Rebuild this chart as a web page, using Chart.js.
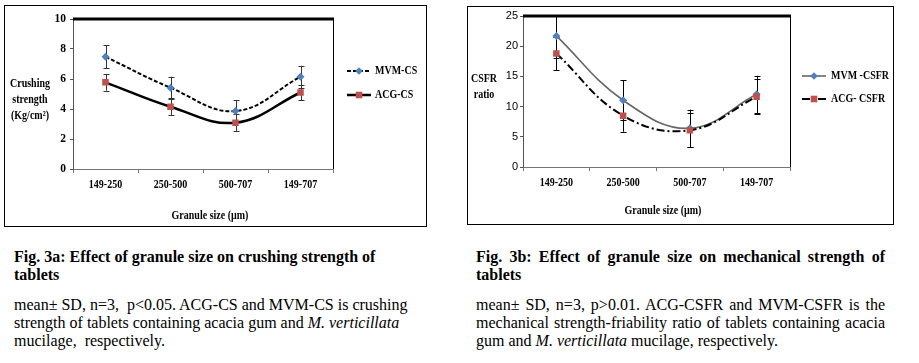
<!DOCTYPE html>
<html><head><meta charset="utf-8">
<script src="https://cdn.jsdelivr.net/npm/chart.js@4.4.1/dist/chart.umd.min.js"></script>
<style>
body{margin:0;background:#fff;width:919px;height:363px;overflow:hidden;position:relative;font-family:"Liberation Serif","Times New Roman",serif;color:#000}
.box{position:absolute;border:1px solid #000;box-sizing:border-box}
.cv{position:absolute;top:0}
.cap{position:absolute;font-size:16px;line-height:18px}
.j{text-align:justify;text-align-last:justify}
</style></head><body>
<div class="box" style="left:4px;top:5px;width:423px;height:222px"></div>
<div class="box" style="left:467px;top:6px;width:427px;height:219px"></div>
<div class="cv" style="left:0;"><canvas id="c1" width="460" height="232"></canvas></div>
<div class="cv" style="left:460px;"><canvas id="c2" width="459" height="232"></canvas></div>

<div class="cap" style="left:14px;top:248px;font-weight:bold;white-space:pre">Fig. 3a: Effect of granule size on crushing strength of
tablets</div>
<div class="cap" style="left:14px;top:296px;white-space:pre">mean± SD, n=3,  p&lt;0.05. ACG-CS and MVM-CS is crushing
strength of tablets containing acacia gum and <i>M. verticillata</i>
mucilage,  respectively.</div>

<div class="cap" style="left:476px;top:248px;width:409px;font-weight:bold"><div class="j">Fig. 3b: Effect of granule size on mechanical strength of</div><div>tablets</div></div>
<div class="cap" style="left:476px;top:296px;width:409px"><div class="j">mean± SD, n=3, p&gt;0.01. ACG-CSFR and MVM-CSFR is the</div><div class="j">mechanical strength-friability ratio of tablets containing acacia</div><div>gum and <i>M. verticillata</i> mucilage, respectively.</div></div>

<script>
// ---- data ----
const categories = ['149-250', '250-500', '500-707', '149-707'];
const mvmCS      = [7.48, 5.42, 3.86, 6.15];
const mvmCSErr   = [0.76, 0.73, 0.72, 0.73];
const acgCS      = [5.78, 4.15, 3.09, 5.10];
const acgCSErr   = [0.56, 0.56, 0.57, 0.50];
const mvmCSFR    = [21.7, 11.05, 6.4, 12.05];
const mvmCSFRErr = [3.6, 3.3, 3.1, 3.05];
const acgCSFR    = [18.8, 8.5, 6.1, 11.65];
const acgCSFRErr = [2.8, 2.65, 2.8, 2.85];
const csTicks    = {min: 0, max: 10, step: 2};
const csfrTicks  = {min: 0, max: 25, step: 5};

function sText(ctx, txt, x, y, font, align, sx) {
  ctx.save();
  ctx.font = font;
  ctx.textBaseline = 'middle';
  ctx.textAlign = align;
  ctx.fillStyle = '#000';
  ctx.translate(x, y);
  ctx.scale(sx, 1);
  ctx.fillText(txt, 0, 0);
  ctx.restore();
}

function marker(ctx, style, x, y, color) {
  ctx.save();
  ctx.fillStyle = color;
  ctx.beginPath();
  if (style === 'rectRot') {
    const r = 3.8;
    ctx.moveTo(x, y - r); ctx.lineTo(x + r, y); ctx.lineTo(x, y + r); ctx.lineTo(x - r, y);
  } else {
    const s = 3.3;
    ctx.rect(x - s, y - s, 2 * s, 2 * s);
  }
  ctx.closePath();
  ctx.fill();
  ctx.restore();
}

const decor = {
  id: 'decor',
  beforeDatasetsDraw(chart, args, o) {
    const ctx = chart.ctx, a = chart.chartArea;
    const xs = chart.scales.x, ys = chart.scales.y;
    ctx.save();
    ctx.beginPath();
    ctx.rect(a.left, a.top, a.right - a.left, a.bottom - a.top);
    ctx.clip();
    ctx.strokeStyle = o.errColor;
    ctx.lineWidth = 1;
    chart.data.datasets.forEach(ds => {
      ds.data.forEach((v, i) => {
        const e = ds.errors[i];
        const x = Math.round(xs.getPixelForValue(i)) + 0.5;
        const yt = ys.getPixelForValue(v + e), yb = ys.getPixelForValue(v - e);
        ctx.beginPath();
        ctx.moveTo(x, yt); ctx.lineTo(x, yb);
        ctx.moveTo(x - 3, Math.round(yt) + 0.5); ctx.lineTo(x + 3, Math.round(yt) + 0.5);
        ctx.moveTo(x - 3, Math.round(yb) + 0.5); ctx.lineTo(x + 3, Math.round(yb) + 0.5);
        ctx.stroke();
      });
    });
    ctx.restore();
  },
  afterDraw(chart, args, o) {
    const ctx = chart.ctx, a = chart.chartArea;
    const xs = chart.scales.x, ys = chart.scales.y;
    // plot border (thick top, thin right)
    ctx.save();
    ctx.fillStyle = '#000';
    ctx.fillRect(a.left, a.top - 1.5, a.right - a.left + 1, 3);
    ctx.fillRect(a.right, a.top, 1, a.bottom - a.top);
    ctx.restore();
    // x tick labels
    chart.data.labels.forEach((lab, i) => {
      sText(ctx, lab, xs.getPixelForValue(i), o.xLabelY, 'bold 12.5px "Liberation Serif"', 'center', 0.8);
    });
    // y tick labels
    ys.ticks.forEach(t => {
      sText(ctx, String(t.value), o.yLabelX, ys.getPixelForValue(t.value), o.yFont, 'right', 1);
    });
    // axis titles
    o.yTitle.forEach((line, i) => {
      sText(ctx, line, o.yTitleX, o.yTitleY[i], 'bold 12.5px "Liberation Serif"', 'center', 0.8);
    });
    sText(ctx, o.xTitle, o.xTitleX, o.xTitleY, 'bold 12.5px "Liberation Serif"', 'center', 0.8);
    // legend
    o.legendOrder.forEach((di, k) => {
      const ds = chart.data.datasets[di];
      const y = o.legendY[k];
      ctx.save();
      ctx.strokeStyle = ds.borderColor;
      ctx.lineWidth = ds.borderWidth;
      ctx.setLineDash(ds.borderDash || []);
      ctx.beginPath();
      ctx.moveTo(o.legendX0, y); ctx.lineTo(o.legendX1, y);
      ctx.stroke();
      ctx.restore();
      marker(ctx, ds.pointStyle, (o.legendX0 + o.legendX1) / 2, y, ds.pointBackgroundColor);
      sText(ctx, ds.label, o.legendTextX, y, 'bold 12.5px "Liberation Serif"', 'left', 0.8);
    });
  }
};

function makeChart(id, W, H, area, ticks, datasets, deco) {
  const YW = 10, XH = 10;
  return new Chart(document.getElementById(id), {
    type: 'line',
    data: {labels: categories, datasets},
    plugins: [decor],
    options: {
      responsive: false, animation: false, devicePixelRatio: 1,
      layout: {padding: {left: area.l - YW, top: area.t, right: W - area.r, bottom: H - area.b - XH}},
      plugins: {legend: {display: false}, tooltip: {enabled: false}, decor: deco},
      scales: {
        x: {
          type: 'category', offset: true,
          grid: {display: true, drawOnChartArea: false, drawTicks: true, tickLength: 4, color: '#777', offset: true},
          border: {display: true, color: '#777', width: 1},
          ticks: {display: false},
          afterFit(s) { s.height = XH; }
        },
        y: {
          min: ticks.min, max: ticks.max,
          ticks: {display: false, stepSize: ticks.step},
          grid: {display: true, drawOnChartArea: false, drawTicks: true, tickLength: 3, color: '#555'},
          border: {display: true, color: '#555', width: 1},
          afterFit(s) { s.width = YW; }
        }
      }
    }
  });
}

makeChart('c1', 460, 232, {l: 73, t: 19, r: 333, b: 169}, csTicks, [
  {label: 'ACG-CS', data: acgCS, errors: acgCSErr, order: 0,
   borderColor: '#000', borderWidth: 2.5, tension: 0.4,
   pointStyle: 'rect', pointRadius: 4.6, pointBorderWidth: 0,
   pointBackgroundColor: '#C0504D', pointBorderColor: '#C0504D'},
  {label: 'MVM-CS', data: mvmCS, errors: mvmCSErr, order: 1,
   borderColor: '#000', borderWidth: 2, borderDash: [4, 2], tension: 0.4,
   pointStyle: 'rectRot', pointRadius: 4, pointBorderWidth: 0,
   pointBackgroundColor: '#4F81BD', pointBorderColor: '#4F81BD'}
], {
  errColor: '#333', xLabelY: 185, yLabelX: 66, yFont: 'bold 11.5px "Liberation Serif"',
  yTitle: ['Crushing', 'strength', '(Kg/cm²)'], yTitleX: 30, yTitleY: [84, 100, 116],
  xTitle: 'Granule size (µm)', xTitleX: 210, xTitleY: 216,
  legendOrder: [1, 0], legendY: [71, 95], legendX0: 347, legendX1: 371, legendTextX: 375
});

makeChart('c2', 459, 232, {l: 63, t: 16, r: 330, b: 167}, csfrTicks, [
  {label: 'ACG- CSFR', data: acgCSFR, errors: acgCSFRErr, order: 0,
   borderColor: '#000', borderWidth: 2, borderDash: [8, 3, 2, 3], tension: 0.4,
   pointStyle: 'rect', pointRadius: 4.6, pointBorderWidth: 0,
   pointBackgroundColor: '#C0504D', pointBorderColor: '#C0504D'},
  {label: 'MVM -CSFR', data: mvmCSFR, errors: mvmCSFRErr, order: 1,
   borderColor: '#666', borderWidth: 1.6, tension: 0.4,
   pointStyle: 'rectRot', pointRadius: 4, pointBorderWidth: 0,
   pointBackgroundColor: '#4F81BD', pointBorderColor: '#4F81BD'}
], {
  errColor: '#000', xLabelY: 183, yLabelX: 58, yFont: '11px "Liberation Sans"',
  yTitle: ['CSFR', 'ratio'], yTitleX: 24, yTitleY: [79, 95],
  xTitle: 'Granule size (µm)', xTitleX: 203, xTitleY: 211,
  legendOrder: [1, 0], legendY: [76, 99], legendX0: 342, legendX1: 366, legendTextX: 371
});
</script>
</body></html>
